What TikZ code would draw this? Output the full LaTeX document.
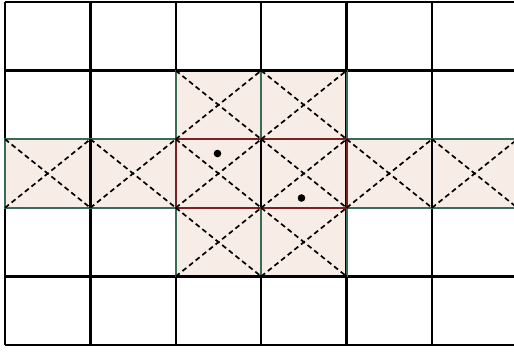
\documentclass[tikz,border=0pt]{standalone}
\usepackage{tikz}

\definecolor{cellfill}{HTML}{F7EDE6}
\definecolor{gridgreen}{HTML}{3A6B57}
\definecolor{boxred}{HTML}{7A2222}

\begin{document}
\begin{tikzpicture}[x=1pt, y=-1pt,
	  grid/.style={line width=2.3pt, draw=black},
	  cell/.style={line width=2pt, draw=gridgreen},
	  diag/.style={line width=1.7pt, dash pattern=on 5pt off 3.5pt},
	]
	\useasboundingbox (0,0) rectangle (514,351);
	\clip (0,0) rectangle (514,351);
	\def\cw{85.4}
	\def\ch{68.6}
	
	% Shaded cells
	\foreach \c/\r in {2/1,3/1,0/2,1/2,2/2,3/2,4/2,5/2,2/3,3/3}
		\fill[cellfill] (5+\cw*\c,2+\ch*\r) rectangle ++(\cw,\ch);
	
	% Grid
	\foreach \i in {0,...,6}
		\draw[grid] (5+\cw*\i,2) -- (5+\cw*\i,345);
	\foreach \j in {0,...,5}
		\draw[grid] (5,2+\ch*\j) -- (520,2+\ch*\j);
	
	% Green outlines of the shaded cells
	\foreach \c/\r in {2/1,3/1,0/2,1/2,2/2,3/2,4/2,5/2,2/3,3/3}
		\draw[cell] (5+\cw*\c,2+\ch*\r) rectangle ++(\cw,\ch);
	\draw[grid] (5+\cw*2,2+\ch) -- (5+\cw*4,2+\ch);
	\draw[grid] (5+\cw*2,2+\ch*4) -- (5+\cw*4,2+\ch*4);
	\foreach \i in {1,3,5}
		\draw[grid] (5+\cw*\i,2+\ch*2) -- (5+\cw*\i,2+\ch*3);
	
	% Central box
	\draw[line width=2.2pt, draw=boxred] (5+\cw*2,2+\ch*2) rectangle (5+\cw*4,2+\ch*3);
	
	% Dashed diagonals
	\foreach \c/\r in {2/1,3/1,0/2,1/2,2/2,3/2,4/2,5/2,2/3,3/3}
		\draw[diag] (5+\cw*\c,2+\ch*\r) -- ++(\cw,\ch)
			(5+\cw*\c,2+\ch*\r+\ch) -- ++(\cw,-\ch);
	
	% Points
	\fill (217.5,153.5) circle (3.8);
	\fill (301.5,198) circle (3.8);
	
\end{tikzpicture}
\end{document}
